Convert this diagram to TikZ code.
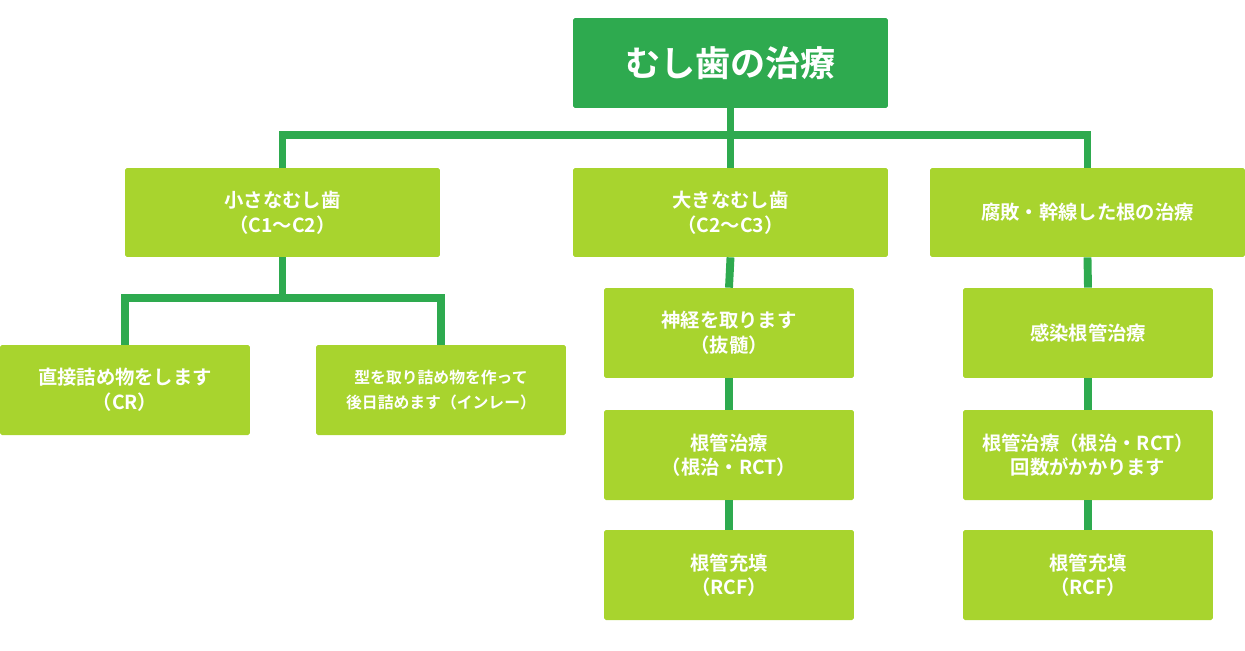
\documentclass[tikz,border=0pt]{standalone}
\usepackage{fontspec}
\setmainfont{Noto Sans CJK JP Bold}
\usetikzlibrary{positioning}
\definecolor{dgreen}{HTML}{2EAA4F}
\definecolor{lgreen}{HTML}{A8D42E}
\tikzset{
  box/.style={fill=lgreen,text=white,align=center,font=\fontsize{11}{14}\selectfont,
    inner sep=0pt,rounded corners=1pt},
  wide/.style={box,minimum width=6.3cm,minimum height=1.78cm},
  small/.style={box,minimum width=5cm,minimum height=1.8cm},
  link/.style={draw=dgreen,line width=4.5pt}
}
\begin{document}
\begin{tikzpicture}[x=0.02cm,y=-0.02cm]
\useasboundingbox (0,0) rectangle (1245,650);
\begin{scope}
    \node[wide,fill=dgreen,font=\fontsize{20}{24}\selectfont,minimum height=1.8cm] (root) at (730.5,63) {むし歯の治療};
    \node[wide] (small) at (282.5,212.5) {小さなむし歯\\（C1～C2）};
    \node[wide] (large) at (730.5,212.5) {大きなむし歯\\（C2～C3）};
    \node[wide] (root3) at (1087.5,212.5) {腐敗・幹線した根の治療};
    \node[small] (cr) at (125,390) {直接詰め物をします\\（CR）};
    \node[small,font=\fontsize{9}{14}\selectfont] (inlay) at (441,390) {型を取り詰め物を作って\\後日詰めます（インレー）};
    \node[small] (nerve) at (729,333) {神経を取ります\\（抜髄）};
    \node[small] (rct) at (729,455) {根管治療\\（根治・RCT）};
    \node[small] (rcf) at (729,575) {根管充填\\（RCF）};
    \node[small] (infect) at (1088,333) {感染根管治療};
    \node[small] (rct2) at (1088,455) {根管治療（根治・RCT）\\回数がかかります};
    \node[small] (rcf2) at (1088,575) {根管充填\\（RCF）};
\end{scope}
\begin{scope}[on background layer/.style={}]
    \coordinate (j1) at (730.5,135);
    \coordinate (j2) at (282.5,298);
    \draw[link] (root.south) -- (j1) -| (small.north);
    \draw[link] (j1) -| (root3.north);
    \draw[link] (j1) -- (large.north);
    \draw[link] (small.south) -- (j2) -| (cr.north);
    \draw[link] (j2) -| (inlay.north);
    \draw[link] (large.south) -- (nerve.north);
    \draw[link] (nerve.south) -- (rct.north);
    \draw[link] (rct.south) -- (rcf.north);
    \draw[link] (root3.south) -- (infect.north);
    \draw[link] (infect.south) -- (rct2.north);
    \draw[link] (rct2.south) -- (rcf2.north);
\end{scope}
\end{tikzpicture}
\end{document}
